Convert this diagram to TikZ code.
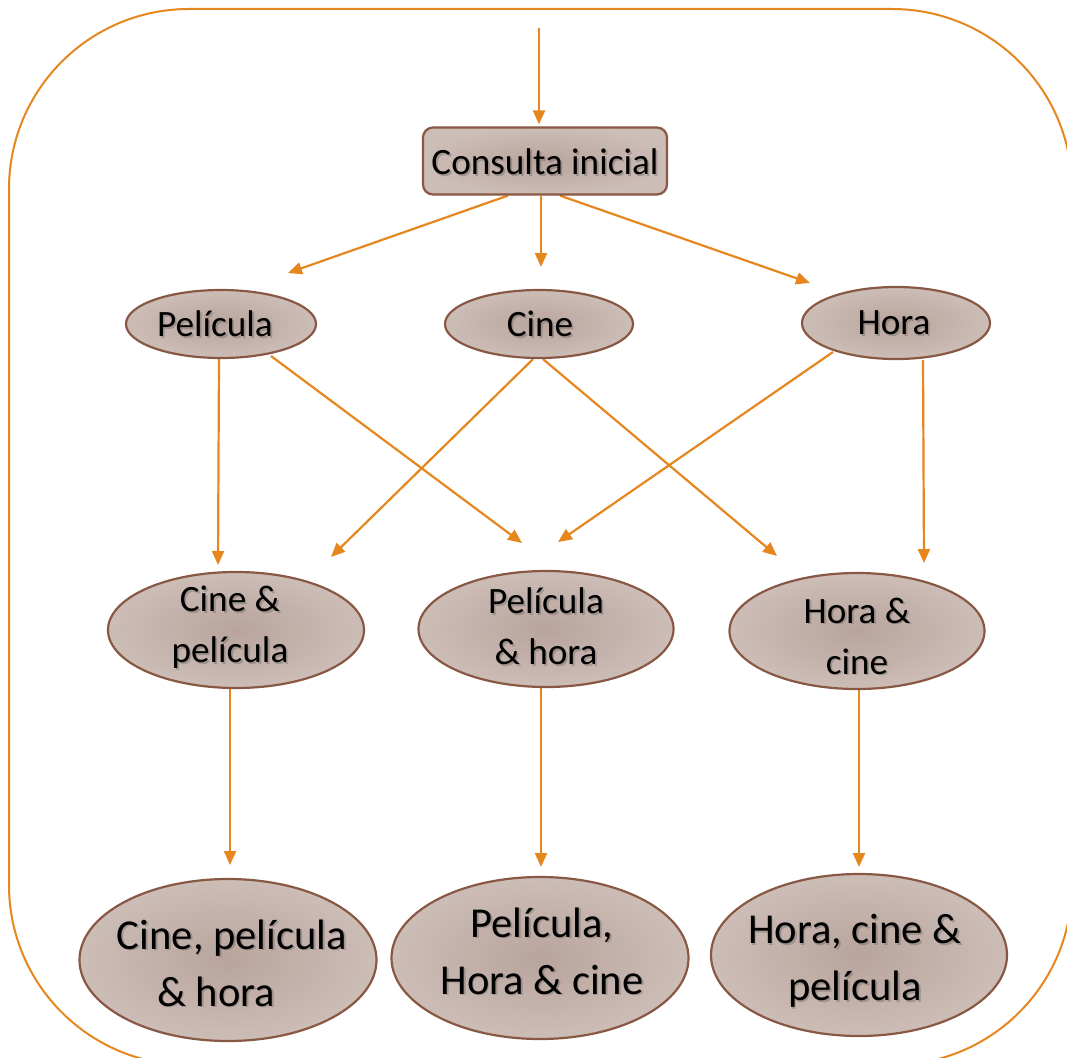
\documentclass[tikz,border=0pt]{standalone}
\usepackage{fontspec}
\setmainfont{Carlito}
\usetikzlibrary{shapes.geometric,arrows.meta,calc,backgrounds}
\definecolor{orng}{RGB}{230,134,30}
\definecolor{brd}{RGB}{136,88,68}
\definecolor{fin}{RGB}{184,164,157}
\definecolor{fout}{RGB}{204,189,182}
\newcommand\fsmid{\fontsize{37.2}{51}\selectfont}
\newcommand\fsbig{\fontsize{42.6}{57}\selectfont}
\newcommand\sdtext[4]{%
  \node[txt,font=#3,text=black!70,opacity=0.3] (#1-sh) at ($(#2)+(1.8,1.8)$) {#4};
  \node[txt,font=#3] (#1) at (#2) {#4};}
\begin{document}
\begin{tikzpicture}[x=1pt,y=-1pt,
  conn/.style={draw=orng,line width=2.2pt,-{Triangle[length=14pt,width=12pt]}},
  ell/.style={ellipse,draw=brd,line width=2.2pt,inner color=fin,outer color=fout,inner sep=0pt},
  txt/.style={align=center,inner sep=0pt,text=black},
]
\useasboundingbox (0,0) rectangle (1067,1057);
% nodes
\node[rectangle,rounded corners=10pt,draw=brd,line width=2.2pt,inner color=fin,outer color=fout,
      minimum width=244pt,minimum height=67pt,inner sep=0pt] (cons) at (545,161) {};
\node[ell,minimum width=190pt,minimum height=68pt] (pel) at (221,324) {};
\node[ell,minimum width=188pt,minimum height=68pt] (cine) at (539,324) {};
\node[ell,minimum width=188pt,minimum height=72pt] (hora) at (896,323) {};
\node[ell,minimum width=256pt,minimum height=116pt] (cp) at (236,630) {};
\node[ell,minimum width=255pt,minimum height=116pt] (ph) at (546,629) {};
\node[ell,minimum width=255pt,minimum height=116pt] (hc) at (857,631) {};
\node[ell,minimum width=297pt,minimum height=162pt] (cph) at (228,960) {};
\node[ell,minimum width=297pt,minimum height=162pt] (phc) at (540,958) {};
\node[ell,minimum width=296pt,minimum height=162pt] (hcp) at (859,955) {};
% texts
\sdtext{tcons}{545,162}{\fsmid}{Consulta inicial}
\sdtext{tpel}{215,324}{\fsmid}{Película}
\sdtext{tcine}{540,324}{\fsmid}{Cine}
\sdtext{thora}{894,323}{\fsmid}{Hora}
\sdtext{tcp}{230,627}{\fsmid}{Cine \&\\película}
\sdtext{tph}{546,626}{\fsmid}{Película\\\& hora}
\sdtext{thc}{857,636}{\fsmid}{Hora \&\\cine}
\sdtext{tcph}{232,963}{\fsbig}{Cine, película\\\& hora\hspace*{32pt}}
\sdtext{tphc}{542,951}{\fsbig}{Película,\\Hora \& cine}
\sdtext{thcp}{855,961}{\fsbig}{Hora, cine \&\\película}
% free ends
\coordinate (src) at (539,28);
\coordinate (e-pel) at (288,273);
\coordinate (e-cine) at (541,267);
\coordinate (e-hora) at (810,283);
\coordinate (e-cp1) at (218,565);
\coordinate (e-ph1) at (522,543);
\coordinate (e-cp2) at (331,557);
\coordinate (e-hc1) at (777,556);
\coordinate (e-ph2) at (558,542);
\coordinate (e-hc2) at (924,563);
\coordinate (e-b1) at (230,865);
\coordinate (e-b2) at (541,867);
\coordinate (e-b3) at (859,867);
\begin{scope}[on background layer]
  \begin{scope}
    \clip (0,0) rectangle (1067,1057);
    \draw[orng,line width=2pt,rounded corners=180pt] (9,9) rectangle (1072,1065);
  \end{scope}
  \draw[conn,shorten >=2pt] (src) -- (src |- cons.north);
  \draw[conn] ($(cons.south)+(-37,0)$) -- (e-pel);
  \draw[conn] ($(cons.south)+(-4,0)$) -- (e-cine);
  \draw[conn] ($(cons.south)+(15,0)$) -- (e-hora);
  \draw[conn] ($(pel.south)+(-2,0)$) -- (e-cp1);
  \draw[conn] ($(pel.center)+(50,32)$) -- (e-ph1);
  \draw[conn] ($(cine.south)+(-6,0)$) -- (e-cp2);
  \draw[conn] ($(cine.south)+(4,0)$) -- (e-hc1);
  \draw[conn] ($(hora.center)+(-63,29)$) -- (e-ph2);
  \draw[conn] ($(hora.south)+(27,0)$) -- (e-hc2);
  \draw[conn] ($(cp.south)+(-6,0)$) -- (e-b1);
  \draw[conn] ($(ph.south)+(-5,0)$) -- (e-b2);
  \draw[conn] ($(hc.south)+(2,0)$) -- (e-b3);
\end{scope}
\end{tikzpicture}
\end{document}
